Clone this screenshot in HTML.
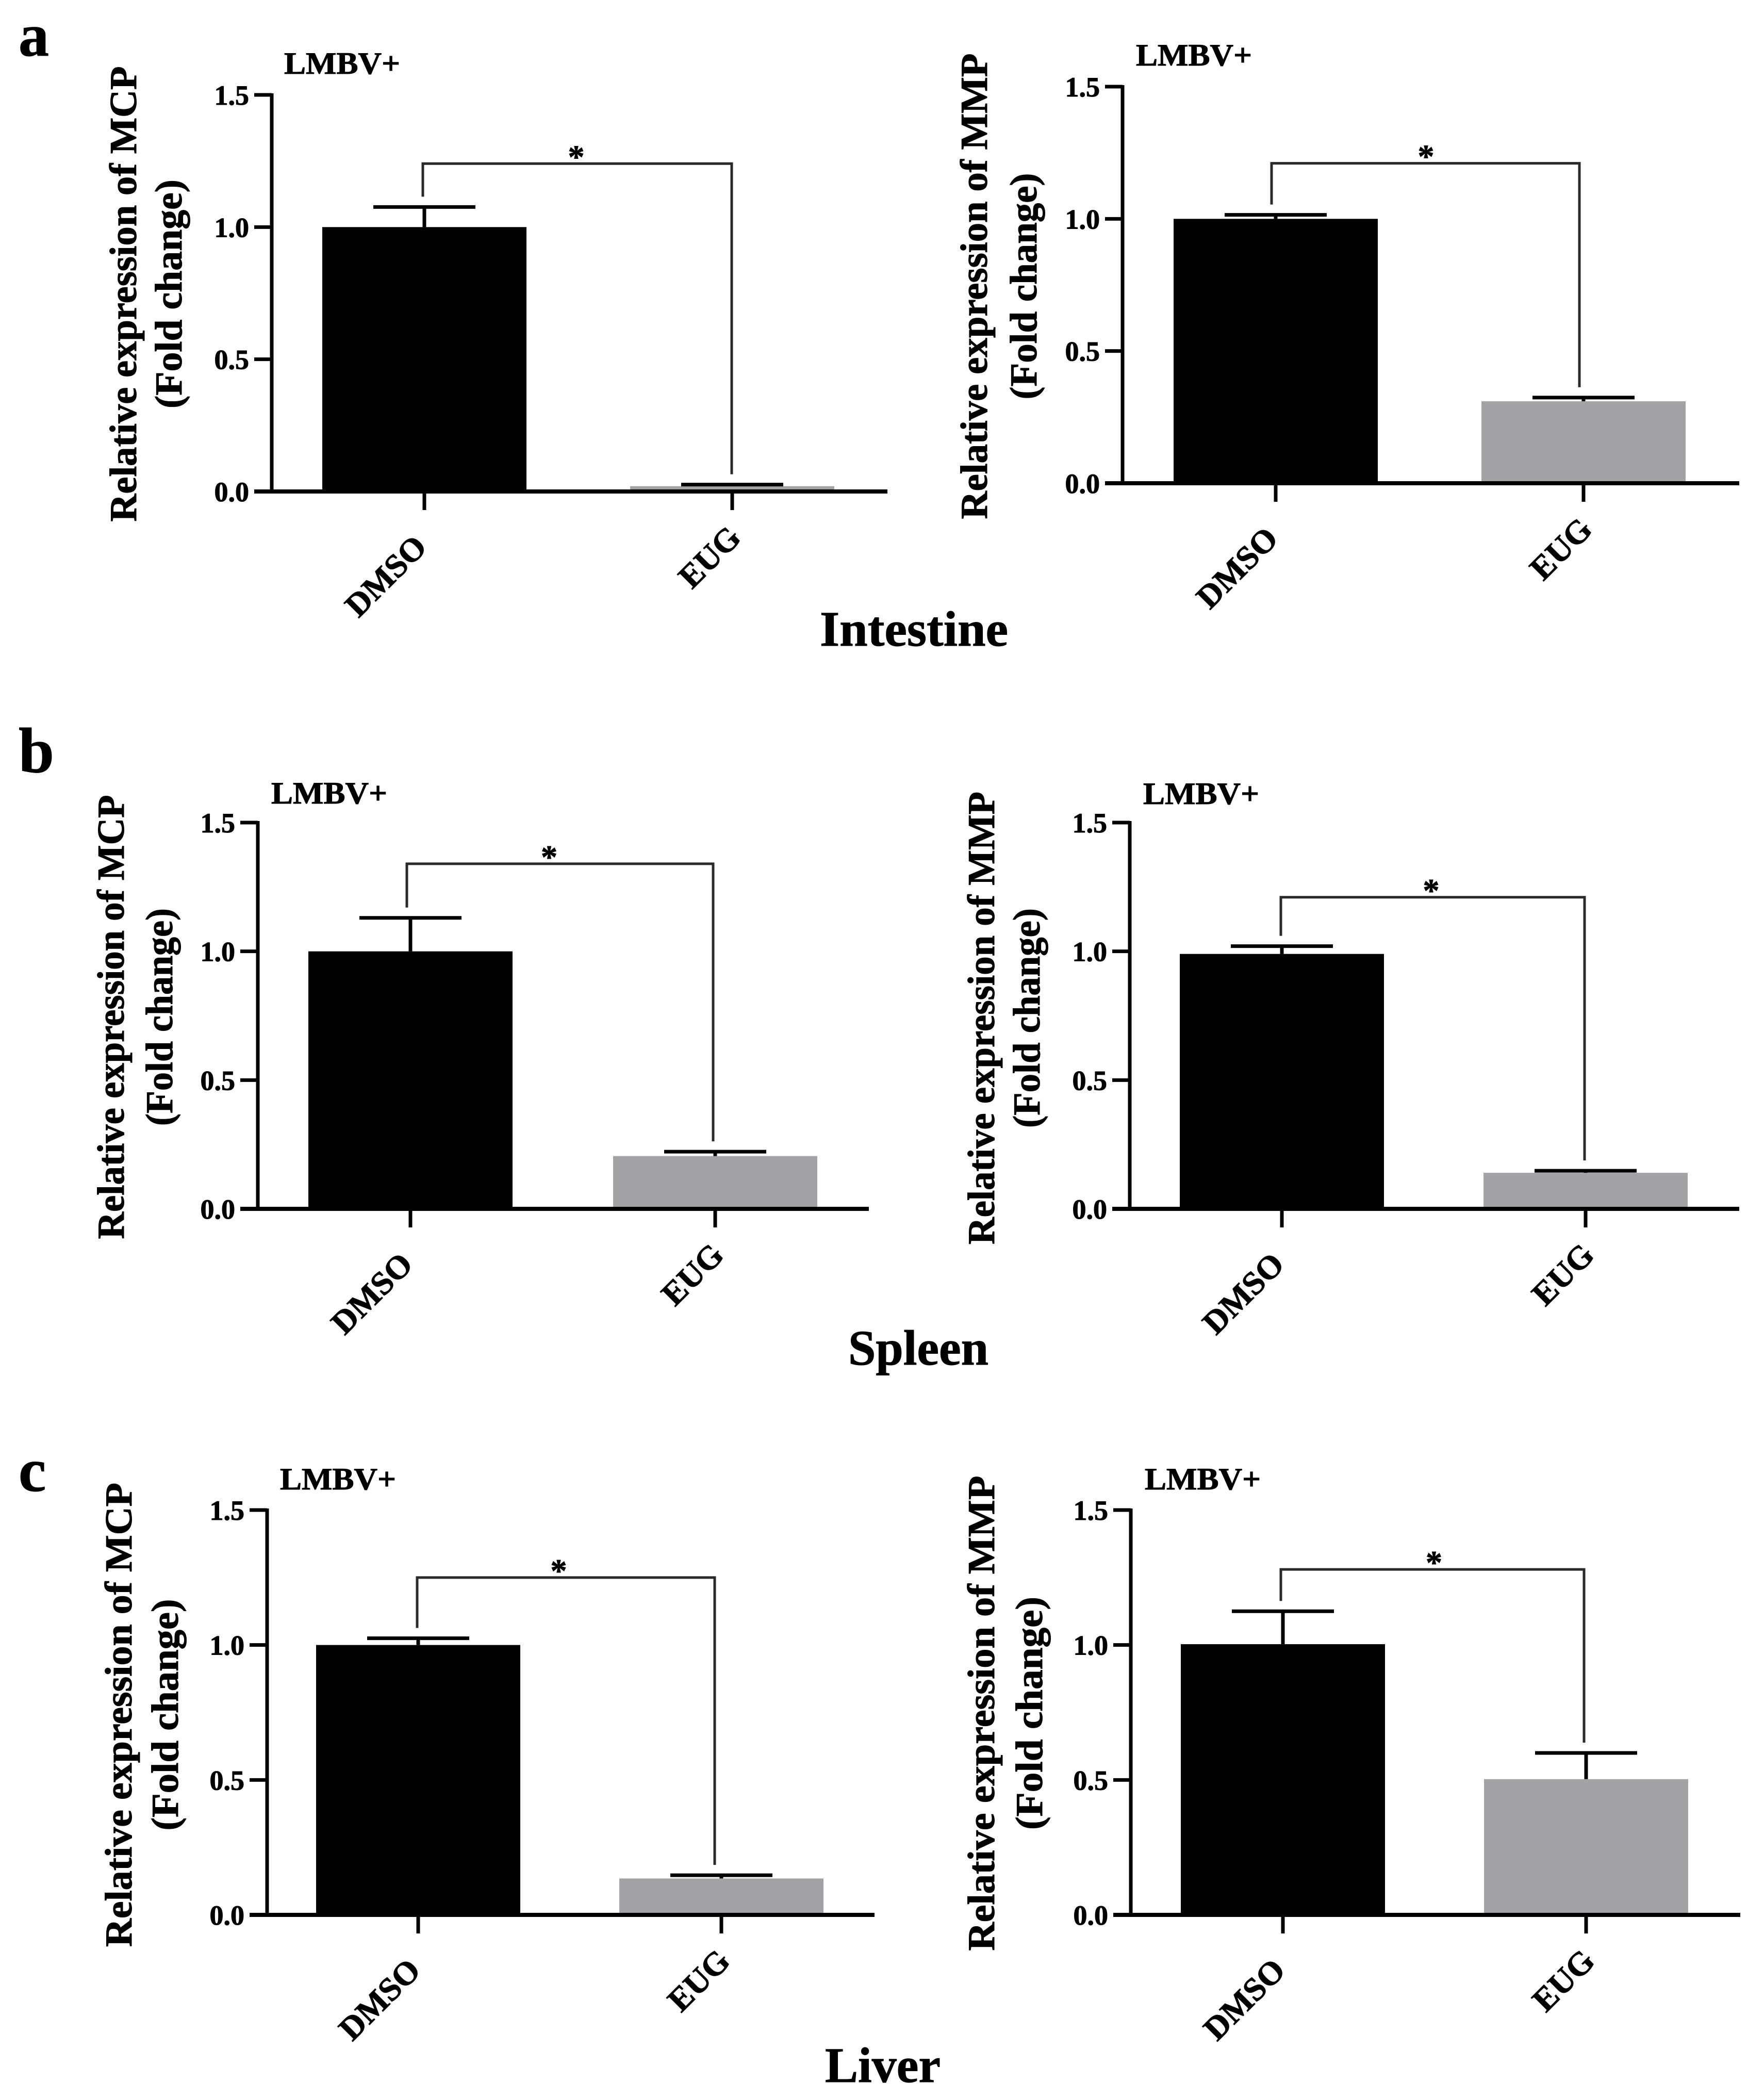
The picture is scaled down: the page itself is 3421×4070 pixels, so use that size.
<!DOCTYPE html>
<html lang="en">
<head>
<meta charset="utf-8">
<title>Relative expression of MCP and MMP in intestine, spleen and liver</title>
<style>
html,body{margin:0;padding:0;background:#fff;}
svg{display:block;}
text{font-family:"Liberation Serif",serif;font-weight:bold;fill:#000;stroke:#000;stroke-width:1;}
</style>
</head>
<body>
<svg id="figure" width="3421" height="4070" viewBox="0 0 3421 4070" xmlns="http://www.w3.org/2000/svg">
  <rect width="3421" height="4070" fill="#fff"/>
  <text x="36" y="108" font-size="118">a</text>
  <text x="36" y="1497" font-size="124">b</text>
  <text x="36" y="2891" font-size="120">c</text>
  <text x="1590" y="1252" font-size="96" textLength="365" lengthAdjust="spacingAndGlyphs">Intestine</text>
  <text x="1645" y="2646" font-size="96" textLength="272" lengthAdjust="spacingAndGlyphs">Spleen</text>
  <text x="1600" y="4037" font-size="96" textLength="224" lengthAdjust="spacingAndGlyphs">Liver</text>
</svg>
<script>
// ---- chart data ----
const categories = ['DMSO', 'EUG'];
const yTickValues = [0, 0.5, 1, 1.5];
const yTickLabels = ['0.0', '0.5', '1.0', '1.5'];
const seriesLabel = 'LMBV+';
const significanceLabel = '*';

const intestineMcpValues = [1.0, 0.02];
const intestineMcpErrors = [0.076, 0.006];
const intestineMcpBracketLevel = [1.24];

const intestineMmpValues = [1.0, 0.31];
const intestineMmpErrors = [0.015, 0.014];
const intestineMmpBracketLevel = [1.21];

const spleenMcpValues = [1.0, 0.205];
const spleenMcpErrors = [0.13, 0.017];
const spleenMcpBracketLevel = [1.34];

const spleenMmpValues = [0.99, 0.14];
const spleenMmpErrors = [0.03, 0.008];
const spleenMmpBracketLevel = [1.21];

const liverMcpValues = [1.0, 0.135];
const liverMcpErrors = [0.025, 0.012];
const liverMcpBracketLevel = [1.25];

const liverMmpValues = [1.003, 0.503];
const liverMmpErrors = [0.122, 0.097];
const liverMmpBracketLevel = [1.28];

// ---- panel layout (one object per chart) ----
const yMax = 1.5;
const barWidth = 396;
const capWidth = 198;
const panels = [
  {id:'intestine-mcp', gene:'MCP', values:intestineMcpValues, errors:intestineMcpErrors, bracket:intestineMcpBracketLevel,
   axisX:527, top:184, base:953, endX:1721, first:823, step:597, bracketShift:-3, bracketRightShift:-1, seriesX:551, seriesY:143,
   title1X:264, title2X:352, titleY:570, title1Len:883, title2Len:444, starShift:-2},
  {id:'intestine-mmp', gene:'MMP', values:intestineMmpValues, errors:intestineMmpErrors, bracket:intestineMmpBracketLevel,
   axisX:2177, top:168, base:937, endX:3373, first:2474, step:597, bracketShift:-8, bracketRightShift:-8, seriesX:2203, seriesY:127,
   title1X:1914, title2X:2010, titleY:555, title1Len:903, title2Len:439, starShift:1},
  {id:'spleen-mcp', gene:'MCP', values:spleenMcpValues, errors:spleenMcpErrors, bracket:spleenMcpBracketLevel,
   axisX:500, top:1595, base:2344, endX:1685, first:796, step:591, bracketShift:-7, bracketRightShift:-4, seriesX:526, seriesY:1558,
   title1X:240, title2X:334, titleY:1972, title1Len:861, title2Len:422, starShift:-21},
  {id:'spleen-mmp', gene:'MMP', values:spleenMmpValues, errors:spleenMmpErrors, bracket:spleenMmpBracketLevel,
   axisX:2191, top:1595, base:2344, endX:3373, first:2486, step:589, bracketShift:-2, bracketRightShift:-2, seriesX:2217, seriesY:1559,
   title1X:1928, title2X:2016, titleY:1974, title1Len:878, title2Len:426, starShift:-3},
  {id:'liver-mcp', gene:'MCP', values:liverMcpValues, errors:liverMcpErrors, bracket:liverMcpBracketLevel,
   axisX:518, top:2928, base:3713, endX:1696, first:811, step:588, bracketShift:-2, bracketRightShift:-13, seriesX:543, seriesY:2888,
   title1X:255, title2X:345, titleY:3325, title1Len:900, title2Len:449, starShift:-14},
  {id:'liver-mmp', gene:'MMP', values:liverMmpValues, errors:liverMmpErrors, bracket:liverMmpBracketLevel,
   axisX:2193, top:2928, base:3713, endX:3375, first:2488, step:588, bracketShift:-4, bracketRightShift:-4, seriesX:2220, seriesY:2888,
   title1X:1928, title2X:2021, titleY:3322, title1Len:921, title2Len:452, starShift:3}
];

const SVG_NS = 'http://www.w3.org/2000/svg';
const figure = document.getElementById('figure');

function mk(tag, attrs, parent, content) {
  const el = document.createElementNS(SVG_NS, tag);
  for (const k in attrs) el.setAttribute(k, attrs[k]);
  if (content !== undefined) el.textContent = content;
  parent.appendChild(el);
  return el;
}

function drawPanel(p) {
  const yScale = v => p.base - (v / yMax) * (p.base - p.top);
  const xScale = i => p.first + p.step * i;

  const g = mk('g', {}, figure);
  
  

  // bars and error bars
  categories.forEach((cat, i) => {
    const cx = xScale(i);
    const yTop = yScale(p.values[i]);
    const bar = mk('rect', {x: cx - barWidth / 2, y: yTop, width: barWidth, height: p.base - yTop,
      fill: i === 0 ? '#000' : '#a3a3a7'}, g);
    
    

    const yErr = yScale(p.values[i] + p.errors[i]);
    const stem = mk('line', {x1: cx, x2: cx, y1: yTop, y2: yErr, stroke: '#000', 'stroke-width': 7}, g);
    
    

    const cap = mk('line', {x1: cx - capWidth / 2, x2: cx + capWidth / 2, y1: yErr, y2: yErr, stroke: '#000', 'stroke-width': 7}, g);
    
    
  });

  // y axis
  const yAxis = mk('line', {x1: p.axisX, x2: p.axisX, y1: p.top - 3, y2: p.base + 3, stroke: '#000', 'stroke-width': 7}, g);
  
  

  yTickValues.forEach((v, i) => {
    const y = yScale(v);
    const tick = mk('line', {x1: p.axisX - 34, x2: p.axisX, y1: y, y2: y, stroke: '#000', 'stroke-width': 7}, g);
    
    

    const label = mk('text', {x: p.axisX - 44, y: y + 19, 'font-size': 54, 'text-anchor': 'end'}, g, yTickLabels[i]);
    
    
  });

  // x axis
  const xAxis = mk('line', {x1: p.axisX - 34, x2: p.endX, y1: p.base, y2: p.base, stroke: '#000', 'stroke-width': 8}, g);
  
  

  categories.forEach((cat, i) => {
    const cx = xScale(i);
    const tick = mk('line', {x1: cx, x2: cx, y1: p.base, y2: p.base + 36, stroke: '#000', 'stroke-width': 7}, g);
    
    

    const lx = cx + 8 + 12 * i;
    const ly = p.base + 111 - 18 * i;
    const label = mk('text', {x: lx, y: ly, 'font-size': 64, 'text-anchor': 'end',
      transform: 'rotate(-45 ' + lx + ' ' + ly + ')'}, g, cat);
    
    
  });

  // significance bracket, dropping to just above each error bar
  const bx0 = xScale(0) + p.bracketShift;
  const bx1 = xScale(1) + p.bracketRightShift;
  const by = yScale(p.bracket[0]);
  const gap = 20;
  const y0 = yScale(p.values[0] + p.errors[0]) - gap;
  const y1 = yScale(p.values[1] + p.errors[1]) - gap;
  const bracket = mk('path', {d: 'M' + bx0 + ' ' + y0 + 'V' + by + 'H' + bx1 + 'V' + y1,
    fill: 'none', stroke: '#2a2a2a', 'stroke-width': 5}, g);
  
  

  const star = mk('text', {x: (bx0 + bx1) / 2 + p.starShift, y: by + 8, 'font-size': 64, 'text-anchor': 'middle'}, g, significanceLabel);
  
  

  // series label
  const series = mk('text', {x: p.seriesX, y: p.seriesY, 'font-size': 60, textLength: 225, lengthAdjust: 'spacingAndGlyphs'}, g, seriesLabel);
  
  

  // y-axis title, two rotated lines
  const t1 = mk('text', {x: p.title1X, y: p.titleY, 'font-size': 74, 'text-anchor': 'middle',
    textLength: p.title1Len, lengthAdjust: 'spacingAndGlyphs',
    transform: 'rotate(-90 ' + p.title1X + ' ' + p.titleY + ')'}, g, 'Relative expression of ' + p.gene);
  
  

  const t2 = mk('text', {x: p.title2X, y: p.titleY, 'font-size': 74, 'text-anchor': 'middle',
    textLength: p.title2Len, lengthAdjust: 'spacingAndGlyphs',
    transform: 'rotate(-90 ' + p.title2X + ' ' + p.titleY + ')'}, g, '(Fold change)');
  
  
}

panels.forEach(drawPanel);
</script>
</body>
</html>
